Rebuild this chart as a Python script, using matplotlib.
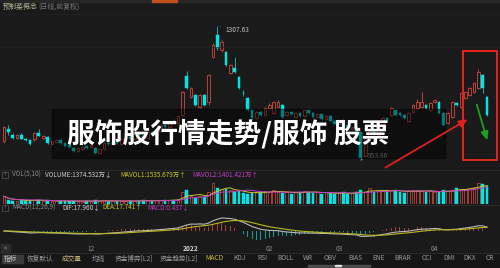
import numpy as np
import pandas as pd
import matplotlib
matplotlib.use("Agg")
import matplotlib.pyplot as plt
from matplotlib.patches import Rectangle

plt.rcParams['font.family'] = ['Noto Sans CJK SC', 'DejaVu Sans']

# daily candles (front-adjusted)
open_ = [1003, 1035, 1020, 1012, 1020, 1010, 1006, 1008, 1025, 1012,
         1015, 995, 1002, 1006, 998, 994, 985, 978, 983, 990,
         988, 985, 972, 982, 1000, 995, 1002, 996, 1008, 1015,
         1010, 1022, 1018, 1012, 1028, 1020, 1030, 1045, 1040, 1058,
         1052, 1073, 1175, 1120, 1125, 1094, 1125, 1107, 1226, 1285,
         1244, 1239, 1184, 1196, 1173, 1132, 1118, 1086, 1065, 1080,
         1072, 1090, 1078, 1095, 1099, 1073, 1080, 1068, 1078, 1070,
         1085, 1078, 1068, 1075, 1062, 1070, 1058, 1050, 1060, 1045,
         1035, 1040, 1028, 965, 1012, 1030, 1020, 1050, 1065, 1073,
         1086, 1078, 1073, 1057, 1080, 1091, 1094, 1099, 1086, 1107,
         1107, 1078, 1052, 1068, 1104, 1094, 1118, 1125, 1133, 1144,
         1178, 1120]
close = [1040, 1027, 1012, 1020, 1010, 1006, 995, 1025, 1018, 1017,
         998, 1003, 1006, 998, 990, 988, 978, 986, 987, 985,
         993, 972, 982, 1000, 995, 1002, 998, 1008, 1015, 1010,
         1022, 1018, 1012, 1028, 1020, 1030, 1045, 1040, 1058, 1052,
         1070, 1133, 1145, 1143, 1099, 1125, 1099, 1178, 1257, 1250,
         1265, 1205, 1205, 1186, 1144, 1130, 1086, 1065, 1080, 1072,
         1090, 1100, 1107, 1107, 1068, 1080, 1075, 1078, 1070, 1085,
         1078, 1068, 1075, 1062, 1070, 1058, 1050, 1060, 1045, 1035,
         1040, 1030, 960, 1012, 1030, 1020, 1050, 1065, 1058, 1091,
         1073, 1073, 1065, 1078, 1099, 1107, 1107, 1091, 1104, 1112,
         1078, 1046, 1078, 1107, 1099, 1131, 1133, 1144, 1157, 1186,
         1144, 1073]
high = [1043, 1045, 1025, 1023, 1026, 1012, 1008, 1027, 1035, 1020,
        1017, 1005, 1008, 1012, 1000, 996, 987, 988, 990, 992,
        996, 987, 984, 1002, 1003, 1004, 1005, 1010, 1018, 1017,
        1024, 1026, 1020, 1030, 1031, 1033, 1048, 1050, 1060, 1062,
        1073, 1136, 1190, 1146, 1128, 1128, 1127, 1180, 1262, 1307.63,
        1270, 1242, 1207, 1226, 1175, 1138, 1120, 1088, 1083, 1084,
        1093, 1104, 1110, 1112, 1101, 1083, 1082, 1080, 1080, 1088,
        1087, 1080, 1077, 1077, 1072, 1072, 1060, 1062, 1062, 1047,
        1042, 1042, 1030, 1015, 1033, 1032, 1053, 1068, 1067, 1094,
        1088, 1080, 1075, 1080, 1102, 1115, 1133, 1102, 1106, 1115,
        1109, 1080, 1080, 1110, 1107, 1133, 1136, 1147, 1160, 1194,
        1180, 1122]
low = [1000, 1020, 1008, 1010, 1008, 1004, 993, 1005, 1016, 1010,
       996, 993, 1000, 996, 988, 986, 976, 976, 981, 983,
       986, 970, 970, 980, 993, 993, 996, 994, 1006, 1008,
       1008, 1016, 1010, 1010, 1018, 1018, 1028, 1037, 1038, 1050,
       1050, 1070, 1142, 1118, 1096, 1090, 1097, 1100, 1222, 1244,
       1240, 1203, 1182, 1184, 1142, 1124, 1084, 1060, 1062, 1070,
       1070, 1088, 1075, 1092, 1066, 1071, 1073, 1066, 1068, 1068,
       1076, 1066, 1066, 1060, 1060, 1056, 1048, 1048, 1043, 1033,
       1033, 1028, 953.86, 962, 1010, 1018, 1018, 1048, 1056, 1071,
       1071, 1071, 1063, 1055, 1078, 1089, 1092, 1089, 1084, 1105,
       1076, 1043, 1050, 1066, 1097, 1092, 1116, 1123, 1131, 1142,
       1131, 1070]
# volume in 万 shares
volume = [590, 300, 230, 230, 300, 270, 300, 300, 270, 230,
          270, 230, 230, 230, 230, 230, 230, 230, 190, 230,
          230, 270, 230, 270, 230, 230, 230, 230, 250, 230,
          250, 230, 270, 270, 230, 270, 300, 270, 300, 300,
          380, 910, 1060, 610, 460, 610, 530, 910, 1600, 1200,
          1150, 1140, 1060, 910, 990, 840, 760, 840, 910, 910,
          990, 910, 1060, 910, 840, 910, 760, 910, 910, 990,
          910, 840, 910, 760, 910, 840, 760, 840, 910, 760,
          840, 910, 1060, 910, 1220, 910, 990, 1060, 990, 1060,
          1060, 910, 840, 990, 1060, 1060, 990, 910, 990, 910,
          910, 1060, 990, 1060, 1220, 1140, 1140, 1220, 1290, 1600,
          1520, 1374.532]

month_idx = [20, 43, 61, 77, 99]
month_labels = ['12', '2022', '02', '03', '04']

tab_names = ['指标', '恢复默认', '成交量', '均线', '资金博弈[L2]', '资金趋势[L2]',
             'MACD', 'KDJ', 'RSI', 'BOLL', 'WR', 'OBV', 'BIAS', 'ENE',
             'BRAR', 'CCI', 'DMI', 'DKX', 'CR']
tab_x = [4, 27, 62, 92, 115, 160, 205, 233, 257, 277, 303, 324, 348,
         372, 394, 422, 443, 463, 486]

BG = '#1a1a1a'
RED = '#b8433c'
CYAN = '#00e5e5'
CYAN_D = '#16a8a8'
YEL = '#c8c828'
MAG = '#c23cc2'

o = np.array(open_, float)
c = np.array(close, float)
h = np.array(high, float)
l = np.array(low, float)
v = np.array(volume, float)
x = np.arange(len(c))
up = c >= o
XL = (-0.92, 113.99)

fig = plt.figure(figsize=(5, 2.68), dpi=100, facecolor=BG)


def fy(px):
    return 1 - px / 268


# price panel
ax_p = fig.add_axes([0, fy(168), 1, 158 / 268])
ax_p.set_xlim(*XL)
ax_p.set_ylim(932.7, 1349.9)
ax_p.vlines(x, l, h, colors=np.where(up, RED, CYAN_D), lw=0.7, zorder=1)
body_lo = np.minimum(o, c)
body_h = np.maximum(np.abs(c - o), 1.5)
ax_p.bar(x[up], body_h[up], bottom=body_lo[up], width=0.62,
         facecolor=BG, edgecolor=RED, lw=0.7, zorder=2)
ax_p.bar(x[~up], body_h[~up], bottom=body_lo[~up], width=0.62,
         facecolor=CYAN, edgecolor=CYAN, lw=0.3, zorder=2)
imax, imin = int(np.argmax(h)), int(np.argmin(l))
ax_p.annotate(f'{h[imax]:.2f}', xy=(imax, h[imax]), xytext=(6, -3),
              textcoords='offset points', fontsize=4.8, color='#bdbdbd',
              va='center', arrowprops=dict(arrowstyle='-', color='#bdbdbd', lw=0.5))
ax_p.annotate(f'{l[imin]:.2f}', xy=(imin, l[imin]), xytext=(5, 3),
              textcoords='offset points', fontsize=4.8, color='#9a9a9a',
              va='center', arrowprops=dict(arrowstyle='-', color='#bdbdbd', lw=0.5))

# volume panel
ax_v = fig.add_axes([0, fy(204), 1, 27 / 268])
ax_v.set_xlim(*XL)
ax_v.set_ylim(0, 2063)
ax_v.bar(x[up], v[up], width=0.62, facecolor=BG, edgecolor=RED, lw=0.6)
ax_v.bar(x[~up], v[~up], width=0.62, facecolor=CYAN, edgecolor=CYAN, lw=0.3)
vs = pd.Series(v)
ax_v.plot(x, vs.rolling(5, min_periods=1).mean(), color=YEL, lw=0.7)
ax_v.plot(x, vs.rolling(10, min_periods=1).mean(), color=MAG, lw=0.7)

# macd panel: zero line 14 px above the bottom, DIF peak 13 px above zero
ax_m = fig.add_axes([0, fy(244), 1, 34 / 268])
ax_m.set_xlim(*XL)
cs = pd.Series(c)
dif = cs.ewm(span=12, adjust=False).mean() - cs.ewm(span=26, adjust=False).mean()
dea = dif.ewm(span=9, adjust=False).mean()
hist = 2 * (dif - dea)
unit = dif.max() / 13
ax_m.set_ylim(-13 * unit, 21 * unit)
ax_m.bar(x, hist, width=0.22, color=np.where(hist >= 0, '#a8403a', '#1a9a9a'))
ax_m.plot(x, dif, color='#b8b8b8', lw=0.8)
ax_m.plot(x, dea, color='#b8b820', lw=0.8)
ax_m.set_xticks(month_idx, month_labels)
ax_m.tick_params(axis='x', length=0, labelsize=4.8, colors='#8c8c8c', pad=0.5)
for t in ax_m.get_xticklabels():
    if t.get_text() == '2022':
        t.set_color('#d0d0d0')
        t.set_fontweight('bold')
ax_m.set_yticks([])

for a in (ax_p, ax_v, ax_m):
    a.set_facecolor('none')
    for s in a.spines.values():
        s.set_visible(False)
for a in (ax_p, ax_v):
    a.set_xticks([])
    a.set_yticks([])

# overlay in pixel units
ov = fig.add_axes([0, 0, 1, 1], zorder=10)
ov.set_xlim(0, 500)
ov.set_ylim(268, 0)
ov.axis('off')
ov.patch.set_alpha(0)

ov.add_patch(Rectangle((0, 0), 500, 1.5, color='#262626'))
ov.add_patch(Rectangle((152, 0), 25, 1.5, color='#c0501e'))
for yy in (13.5, 47):
    ov.plot([0, 500], [yy, yy], color='#232323', lw=0.5)
for yy in (169.5, 204.5, 253):
    ov.plot([0, 500], [yy, yy], color='#2e2e2e', lw=0.6)
ov.add_patch(Rectangle((0, 253), 500, 15, color='#161616'))

ov.text(3, 7, '预制菜概念', fontsize=5, color='#b4b49a', va='center')
ov.text(38, 7, '(日线,前复权)', fontsize=5, color='#7a7a7a', va='center')

for yy in (174.5, 207.5):
    ov.add_patch(Rectangle((2, yy - 3), 6, 6, fill=False, ec='#5a5a5a', lw=0.5))
    ov.text(5, yy, '?', fontsize=3.5, ha='center', va='center', color='#8a8a8a')
fs = 4.6
ov.text(12, 174.5, 'VOL(5,10)', fontsize=fs, color='#8a8a8a', va='center')
ov.text(45, 174.5, 'VOLUME:1374.532万↓', fontsize=fs, color='#d0d0d0', va='center')
ov.text(120, 174.5, 'MAVOL1:1535.679万↑', fontsize=fs, color=YEL, va='center')
ov.text(192, 174.5, 'MAVOL2:1401.421万↑', fontsize=fs, color=MAG, va='center')
ov.text(12, 207.5, 'MACD(12,26,9)', fontsize=fs, color='#8a8a8a', va='center')
ov.text(62, 207.5, 'DIF:17.960↓', fontsize=fs, color='#d0d0d0', va='center')
ov.text(102, 207.5, 'DEA:17.741↑', fontsize=fs, color=YEL, va='center')
ov.text(147, 207.5, 'MACD:0.437↓', fontsize=fs, color=MAG, va='center')

ov.add_patch(Rectangle((1, 243.5), 9, 8, color='#2a2a2a'))
ov.text(5.5, 247.5, '«', fontsize=5, color='#9a9a9a', ha='center', va='center')

ov.add_patch(Rectangle((2, 254.5), 21, 8.5, color='#3a3a3a'))
for name, tx in zip(tab_names, tab_x):
    col = '#9a9a9a'
    if name == '成交量':
        col = '#c8b878'
    elif name == 'MACD':
        col = '#d0c040'
    elif name == '指标':
        col = '#c8c8c8'
    ov.text(tx, 258.5, name, fontsize=4.8, color=col, va='center')
ov.add_patch(Rectangle((308, 265), 62, 2.5, color='#4a4a4a'))
ov.add_patch(Rectangle((335, 265.3), 6, 1, color='#dddddd'))

# banner
ov.add_patch(Rectangle((52, 109), 393, 49, color='black', alpha=0.45))
ov.text(67, 134, '服饰股行情走势/服饰 股票', fontsize=20, fontweight='bold',
        color='white', va='center', ha='left')

# highlight box and arrows
ov.add_patch(Rectangle((463, 51), 34, 109, fill=False, ec='#e8241c', lw=1.4))
ov.annotate('', xy=(470, 118), xytext=(383, 169),
            arrowprops=dict(arrowstyle='-|>,head_length=0.5,head_width=0.22',
                            color='#e0201c', lw=1.3))
ov.annotate('', xy=(488, 143), xytext=(476, 102),
            arrowprops=dict(arrowstyle='-|>,head_length=0.5,head_width=0.22',
                            color='#1fa01f', lw=1.3))

fig.savefig('out.png', dpi=100, facecolor=BG)
